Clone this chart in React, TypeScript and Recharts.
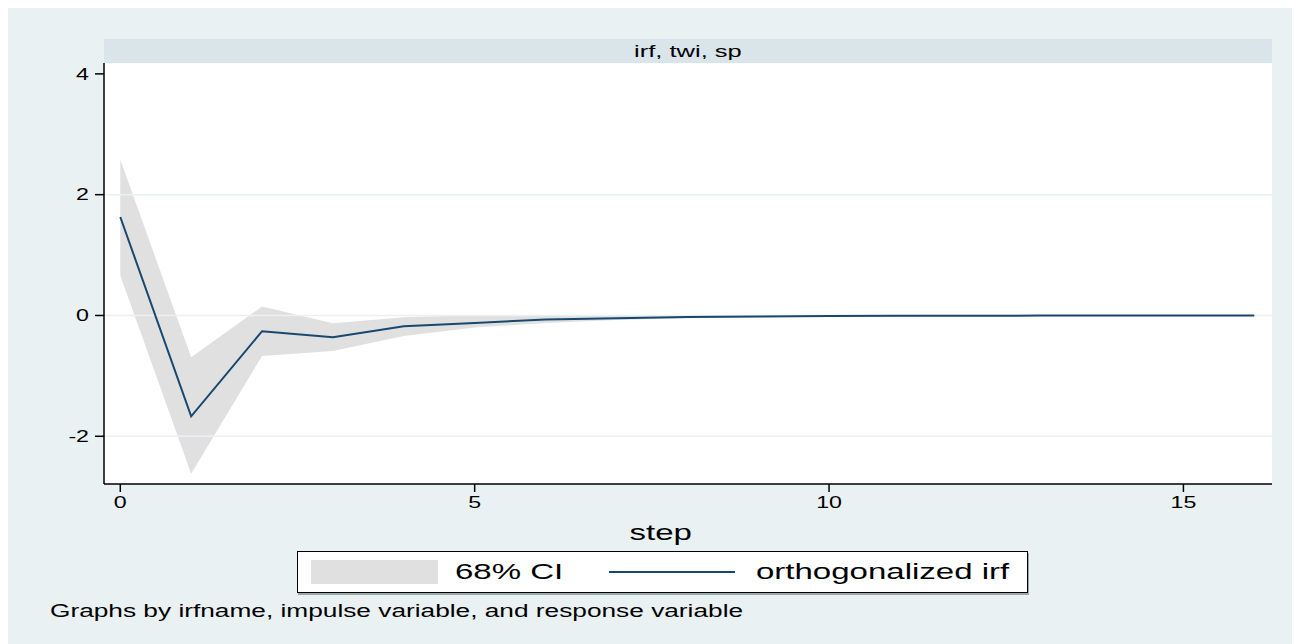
import React from 'react';
import { ComposedChart, Area, Line, XAxis, YAxis, ReferenceLine } from 'recharts';

// impulse response
const steps = [0, 1, 2, 3, 4, 5, 6, 7, 8, 9, 10, 11, 12, 13, 14, 15, 16];
const irf = [1.63, -1.67, -0.26, -0.36, -0.18, -0.125, -0.066, -0.045, -0.027, -0.016, -0.01, -0.006, -0.004, -0.002, -0.001, -0.001, 0];
const ciLower = [0.66, -2.62, -0.67, -0.59, -0.34, -0.2, -0.125, -0.075, -0.045, -0.028, -0.018, -0.011, -0.007, -0.004, -0.002, -0.001, -0.001];
const ciUpper = [2.58, -0.69, 0.15, -0.13, -0.03, 0.005, 0.01, 0.01, 0.01, 0.007, 0.004, 0.002, 0.001, 0.001, 0, 0, 0];

const xTicks = [0, 5, 10, 15];
const yTicks = [-2, 0, 2, 4];
const gridValues = [-2, 0, 2];

const data = steps.map((s, i) => ({
    step: s,
    irf: irf[i],
    ci: [ciLower[i], ciUpper[i]],
}));

const FONT = 'Arial, "Liberation Sans", Helvetica, sans-serif';
const STRETCH = 1.45;

const XTick = (props: any) => {
    const { x, y, payload } = props;
    return (
        <g transform={`translate(${x},${y})`}>
            <text transform={`scale(${STRETCH},1)`} textAnchor="middle" dy="0.71em" fontSize={16} fill="#000" fontFamily={FONT}>
                {payload.value}
            </text>
        </g>
    );
};

const YTick = (props: any) => {
    const { x, y, payload } = props;
    return (
        <g transform={`translate(${x},${y})`}>
            <text transform={`scale(${STRETCH},1)`} textAnchor="end" dy="0.355em" fontSize={16} fill="#000" fontFamily={FONT}>
                {payload.value}
            </text>
        </g>
    );
};

const wide = (extra: React.CSSProperties = {}): React.CSSProperties => ({
    position: 'absolute',
    whiteSpace: 'nowrap',
    fontFamily: FONT,
    color: '#000',
    transform: 'scaleX(1.5)',
    transformOrigin: 'left center',
    lineHeight: 1,
    ...extra,
});

const App: React.FC = () => {
    return (
        <div style={{ position: 'relative', width: 1292, height: 636, backgroundColor: '#eaf1f3', fontFamily: FONT }}>
            {/* plot background */}
            <div style={{ position: 'absolute', left: 96, top: 55, width: 1168, height: 421, backgroundColor: '#fff' }} />

            {/* subgraph header strip */}
            <div style={{ position: 'absolute', left: 96, top: 31, width: 1168, height: 24, backgroundColor: '#d9e5ea' }}>
                <div style={{ position: 'absolute', left: 0, right: 0, top: 4, textAlign: 'center' }}>
                    <span style={{ display: 'inline-block', fontSize: 17, lineHeight: 1, transform: 'scaleX(1.5)', color: '#000' }}>
                        irf, twi, sp
                    </span>
                </div>
            </div>

            <div style={{ position: 'absolute', left: 0, top: 0 }}>
                <ComposedChart width={1292} height={520} data={data} margin={{ top: 55, right: 28, bottom: 0, left: 0 }}>
                    {gridValues.map(v => (
                        <ReferenceLine key={v} y={v} stroke="#eaf1f3" strokeWidth={1.5} />
                    ))}
                    <XAxis
                        dataKey="step"
                        type="number"
                        domain={[-0.23, 16.25]}
                        ticks={xTicks}
                        allowDataOverflow
                        height={44}
                        stroke="#000"
                        strokeWidth={1.5}
                        tickSize={8}
                        tickMargin={5}
                        tick={<XTick />}
                    />
                    <YAxis
                        type="number"
                        domain={[-2.79, 4.18]}
                        ticks={yTicks}
                        allowDataOverflow
                        width={96}
                        stroke="#000"
                        strokeWidth={1.5}
                        tickSize={9}
                        tickMargin={6}
                        tick={<YTick />}
                    />
                    <Area
                        dataKey="ci"
                        type="linear"
                        stroke="none"
                        fill="#e0e0e0"
                        fillOpacity={1}
                        isAnimationActive={false}
                    />
                    <Line
                        dataKey="irf"
                        type="linear"
                        stroke="#1a476f"
                        strokeWidth={2}
                        dot={false}
                        isAnimationActive={false}
                    />
                </ComposedChart>
            </div>

            {/* x axis title */}
            <div style={{ position: 'absolute', left: 0, width: 1306, top: 514, textAlign: 'center' }}>
                <span style={{ display: 'inline-block', fontSize: 22, lineHeight: 1, transform: 'scaleX(1.5)' }}>step</span>
            </div>

            {/* legend */}
            <div style={{
                position: 'absolute',
                left: 289,
                top: 543,
                width: 729,
                height: 40,
                backgroundColor: '#fff',
                border: '1px solid #000',
                boxShadow: '1px 2px 0 #9aa',
            }}>
                <div style={{ position: 'absolute', left: 13, top: 8, width: 127, height: 24, backgroundColor: '#e0e0e0' }} />
                <div style={wide({ left: 157, top: 9, fontSize: 22 })}>68% CI</div>
                <div style={{ position: 'absolute', left: 311, top: 19, width: 126, height: 2, backgroundColor: '#1a476f' }} />
                <div style={wide({ left: 458, top: 9, fontSize: 22 })}>orthogonalized irf</div>
            </div>

            {/* note */}
            <div style={wide({ left: 42, top: 595, fontSize: 17.5, transform: 'scaleX(1.5)' })}>
                Graphs by irfname, impulse variable, and response variable
            </div>
        </div>
    );
};

export default App;
